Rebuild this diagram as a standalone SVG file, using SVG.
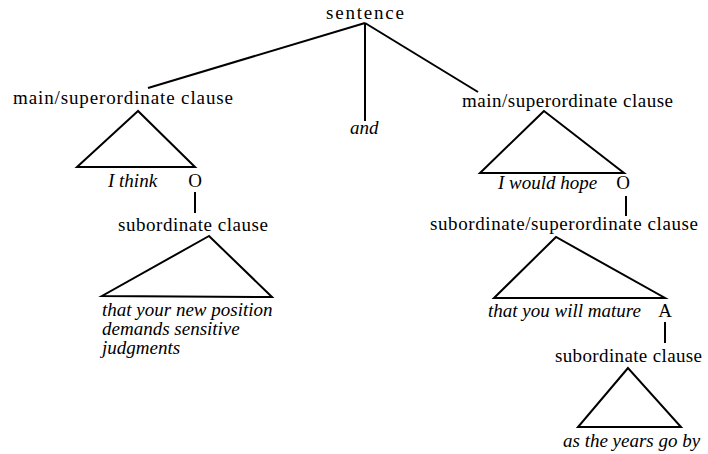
<svg xmlns="http://www.w3.org/2000/svg" width="708" height="454" viewBox="0 0 708 454">
<style>
.r{font-family:"Liberation Serif","Times New Roman",serif;font-size:19px;fill:#000}
.i{font-family:"Liberation Serif","Times New Roman",serif;font-size:19px;font-style:italic;fill:#000}
.c{text-anchor:middle}
.ln{stroke:#000;stroke-width:2;fill:none;stroke-linejoin:miter}
</style>
<rect width="708" height="454" fill="#fff"/>
<g id="connectors">
<line class="ln" x1="365" y1="23" x2="148" y2="88"/>
<line class="ln" x1="365" y1="23" x2="365" y2="121"/>
<line class="ln" x1="365" y1="23" x2="478" y2="92"/>
<line class="ln" x1="195" y1="192" x2="195" y2="213"/>
<line class="ln" x1="626" y1="196" x2="626" y2="216"/>
<line class="ln" x1="665" y1="322" x2="665" y2="343"/>
</g>
<g id="sentence"><text class="r" x="326" y="19" textLength="78" lengthAdjust="spacing">sentence</text></g>
<g id="main1">
<text class="r" x="13" y="104" textLength="220" lengthAdjust="spacing">main/superordinate clause</text>
<polygon class="ln" points="138,111 77,167 195,167"/>
<text class="i" x="108" y="187">I think</text>
</g>
<g id="o1"><text class="r c" x="195" y="187">O</text></g>
<g id="and"><text class="i" x="350" y="134">and</text></g>
<g id="main2">
<text class="r" x="462" y="107" textLength="211" lengthAdjust="spacing">main/superordinate clause</text>
<polygon class="ln" points="544,111 480,173 624,173"/>
<text class="i" x="498" y="189">I would hope</text>
</g>
<g id="o2"><text class="r c" x="623" y="189">O</text></g>
<g id="sub1">
<text class="r" x="118" y="231" textLength="150" lengthAdjust="spacing">subordinate clause</text>
<polygon class="ln" points="209,236 102,296 272,297"/>
<text class="i" x="102" y="316">that your new position</text>
<text class="i" x="102" y="335">demands sensitive</text>
<text class="i" x="102" y="354">judgments</text>
</g>
<g id="subsuper">
<text class="r" x="430" y="230" textLength="268" lengthAdjust="spacing">subordinate/superordinate clause</text>
<polygon class="ln" points="556,237 494,298 665,298"/>
<text class="i" x="488" y="317">that you will mature</text>
</g>
<g id="a"><text class="r c" x="665" y="317">A</text></g>
<g id="sub2">
<text class="r" x="555" y="362" textLength="147" lengthAdjust="spacing">subordinate clause</text>
<polygon class="ln" points="628,368 578,427 681,427"/>
<text class="i" x="563" y="447">as the years go by</text>
</g>
</svg>
